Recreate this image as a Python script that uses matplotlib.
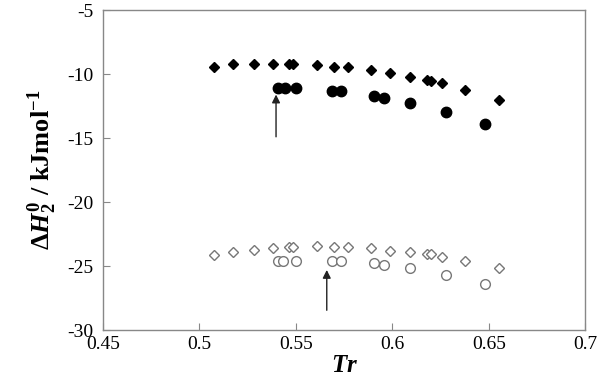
import matplotlib
matplotlib.use("Agg")
import matplotlib.pyplot as plt

plt.rcParams['font.family'] = ['Liberation Serif', 'DejaVu Serif']
plt.rcParams['axes.unicode_minus'] = False
plt.rcParams['mathtext.fontset'] = 'custom'
plt.rcParams['mathtext.rm'] = 'Liberation Serif:bold'
plt.rcParams['mathtext.it'] = 'Liberation Serif:italic:bold'
plt.rcParams['mathtext.bf'] = 'Liberation Serif:bold'

# filled diamonds (upper set)
tr_fd = [0.5076, 0.5176, 0.5283, 0.5383, 0.5466, 0.5487, 0.5608, 0.5700, 0.5772,
         0.5888, 0.5989, 0.6089, 0.6179, 0.6200, 0.6255, 0.6379, 0.6554]
dh_fd = [-9.43, -9.24, -9.20, -9.20, -9.20, -9.20, -9.30, -9.45, -9.43,
         -9.69, -9.95, -10.20, -10.49, -10.52, -10.73, -11.25, -12.03]

# filled circles (upper set)
tr_fc = [0.5409, 0.5444, 0.5500, 0.5686, 0.5734, 0.5907, 0.5959, 0.6091, 0.6280, 0.6478]
dh_fc = [-11.12, -11.12, -11.12, -11.30, -11.35, -11.74, -11.87, -12.24, -12.95, -13.91]

# open diamonds (lower set)
tr_od = [0.5076, 0.5176, 0.5283, 0.5383, 0.5466, 0.5487, 0.5608, 0.5700, 0.5772,
         0.5888, 0.5989, 0.6089, 0.6179, 0.6200, 0.6255, 0.6379, 0.6554]
dh_od = [-24.14, -23.93, -23.75, -23.57, -23.49, -23.49, -23.44, -23.49, -23.49,
         -23.62, -23.80, -23.93, -24.06, -24.06, -24.27, -24.61, -25.18]

# open circles (lower set)
tr_oc = [0.5409, 0.5435, 0.5500, 0.5686, 0.5734, 0.5907, 0.5959, 0.6091, 0.6280, 0.6478]
dh_oc = [-24.59, -24.59, -24.59, -24.59, -24.59, -24.79, -24.92, -25.18, -25.70, -26.43]

# arrows: (x, tail y, tip y)
arrows = [(0.5397, -14.9, -11.6), (0.5660, -28.45, -25.3)]

fig = plt.figure(figsize=(5.99, 3.87), dpi=100)
ax = fig.add_axes([0.172, 0.147, 0.805, 0.827])

ax.plot(tr_od, dh_od, 'D', ms=5.5, mfc='white', mec='#777777', mew=1.0, ls='none')
ax.plot(tr_oc, dh_oc, 'o', ms=7, mfc='white', mec='#777777', mew=1.0, ls='none')
ax.plot(tr_fd, dh_fd, 'D', ms=5.5, color='black', ls='none')
ax.plot(tr_fc, dh_fc, 'o', ms=7.5, color='black', ls='none')

for x, y0, y1 in arrows:
    ax.annotate('', xy=(x, y1), xytext=(x, y0),
                arrowprops=dict(arrowstyle='-|>', color='#222222', lw=1.0,
                                mutation_scale=12, shrinkA=0, shrinkB=0))

ax.set_xlim(0.45, 0.7)
ax.set_ylim(-30, -5)
ax.set_xticks([0.45, 0.5, 0.55, 0.6, 0.65, 0.7])
ax.set_xticklabels(['0.45', '0.5', '0.55', '0.6', '0.65', '0.7'])
ax.set_yticks([-30, -25, -20, -15, -10, -5])
ax.tick_params(direction='in', length=5, width=0.8, color='#888888',
               labelsize=14, pad=4)
ax.tick_params(axis='y', pad=7)
for s in ax.spines.values():
    s.set_color('#888888')
    s.set_linewidth(1.0)

ax.set_xlabel(r'$Tr$', fontsize=18, labelpad=2)
ax.set_ylabel(r'$\mathit{\Delta H}^{\mathbf{0}}_{\mathbf{2}}$ / kJmol$^{\mathbf{-1}}$',
              fontsize=19, fontweight='bold', labelpad=6)

fig.savefig('out.png', dpi=100)
